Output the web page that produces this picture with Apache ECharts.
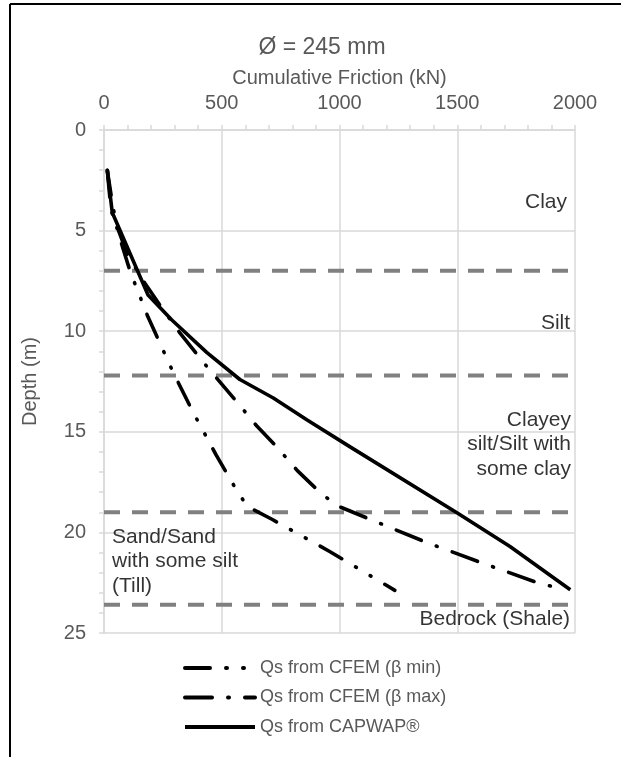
<!DOCTYPE html>
<html>
<head>
<meta charset="utf-8">
<title>Cumulative Friction</title>
<script src="https://cdn.jsdelivr.net/npm/echarts@6/dist/echarts.min.js"></script>
<style>
  html, body { margin: 0; padding: 0; background: #fff; }
  #chart { width: 621px; height: 757px; }
</style>
</head>
<body>
<div id="chart"></div>
<script>
// depth (m) / cumulative friction (kN)
var betaMinKN    = [14, 35, 57, 112, 187, 292, 377, 476, 568, 610, 715, 960, 1235];
var betaMinDepth = [2, 3.6, 5.0, 7.06, 9.3, 12.0, 14.0, 16.15, 18.0, 18.72, 19.36, 20.96, 22.88];

var betaMaxKN    = [14, 30, 100, 173, 243, 323, 440, 563, 648, 733, 821, 910, 985, 1130, 1370, 1608, 1848, 1958];
var betaMaxDepth = [2, 4, 6.2, 7.6, 8.8, 10.1, 11.8, 13.5, 14.7, 15.74, 16.93, 17.93, 18.65, 19.35, 20.5, 21.53, 22.53, 22.84];

var capwapKN    = [14, 35, 187, 287, 436, 577, 719, 861, 1045, 1502, 1724, 1980];
var capwapDepth = [2, 4.1, 8.2, 9.43, 11.05, 12.4, 13.32, 14.4, 15.75, 19.05, 20.7, 22.85];

var layerDepths = [7, 12.2, 19, 23.6];
var layerNames = ['Clay', 'Silt', 'Clayey\nsilt/Silt with\nsome clay', 'Sand/Sand\nwith some silt\n(Till)', 'Bedrock (Shale)'];

var frictionTicks = [0, 500, 1000, 1500, 2000];
var depthTicks = [0, 5, 10, 15, 20, 25];

var seriesNames = ['Qs from CFEM (\u03b2 min)', 'Qs from CFEM (\u03b2 max)', 'Qs from CAPWAP\u00ae'];

//**********************************************************************
var myChart = echarts.init(document.getElementById('chart'));
var FONT = '"Liberation Sans", Arial, sans-serif';

// where each layer name sits (kN, depth) and which side of that point
var layerLabelAt = [[1966, 3.57, 'left'], [1979, 9.58, 'left'], [1983, 15.64, 'left'], [34, 21.45, 'right'], [1979, 24.33, 'left']];

function pairs(xs, ys) {
	var out = [];
	for (var i = 0; i < xs.length; i++) {
		out.push([xs[i], ys[i]]);
	}
	return out;
}

function plainNumber(v) {
	return String(v);
}

function drawChart() {
	var xMin = frictionTicks[0];
	var xMax = frictionTicks[frictionTicks.length - 1];

	var series = [
		{
			name: seriesNames[0],
			type: 'line',
			symbol: 'none',
			data: pairs(betaMinKN, betaMinDepth),
			itemStyle: { color: '#000' },
			lineStyle: { color: '#000', width: 3.6, type: [25, 16, 1, 16, 1, 16], cap: 'round' },
			z: 5
		}, {
			name: seriesNames[1],
			type: 'line',
			symbol: 'none',
			data: pairs(betaMaxKN, betaMaxDepth),
			itemStyle: { color: '#000' },
			lineStyle: { color: '#000', width: 3.6, type: [27, 16, 1, 16], cap: 'round' },
			z: 5
		}, {
			name: seriesNames[2],
			type: 'line',
			symbol: 'none',
			data: pairs(capwapKN, capwapDepth),
			itemStyle: { color: '#000' },
			lineStyle: { color: '#000', width: 3.6 },
			z: 5
		}
	];

	// layer boundaries
	for (var i = 0; i < layerDepths.length; i++) {
		series.push({
			name: 'boundary' + i,
			type: 'line',
			symbol: 'none',
			silent: true,
			data: [[xMin, layerDepths[i]], [xMax, layerDepths[i]]],
			lineStyle: { color: '#808080', width: 4, type: [16, 12] },
			z: 3
		});
	}

	// layer names
	var labelData = [];
	for (var j = 0; j < layerNames.length; j++) {
		labelData.push({
			value: [layerLabelAt[j][0], layerLabelAt[j][1]],
			label: { position: layerLabelAt[j][2], formatter: layerNames[j] }
		});
	}
	series.push({
		name: 'layers',
		type: 'scatter',
		symbolSize: 0,
		silent: true,
		data: labelData,
		label: {
			show: true,
			distance: 0,
			color: '#000',
			fontSize: 21,
			lineHeight: 24.5,
			fontFamily: FONT
		},
		z: 6
	});

	var option = {
		animation: false,
		title: {
			text: '\u00d8 = 245 mm',
			left: 322,
			top: 36,
			textAlign: 'center',
			padding: 0,
			textStyle: { color: '#595959', fontSize: 23, fontWeight: 'normal', fontFamily: FONT }
		},
		legend: {
			data: seriesNames,
			orient: 'vertical',
			left: 183,
			top: 658,
			itemWidth: 70,
			itemHeight: 12,
			itemGap: 9.5,
			padding: 0,
			itemStyle: { opacity: 0 },
			lineStyle: { width: 4 },
			textStyle: { color: '#595959', fontSize: 18, lineHeight: 20, fontFamily: FONT }
		},
		graphic: [
			{ type: 'line', shape: { x1: 10, y1: 4, x2: 621, y2: 4 }, style: { stroke: '#000', lineWidth: 2 } },
			{ type: 'line', shape: { x1: 10, y1: 4, x2: 10, y2: 757 }, style: { stroke: '#000', lineWidth: 2 } }
		],
		grid: { left: 104, top: 130, width: 471, height: 503 },
		xAxis: {
			type: 'value',
			position: 'top',
			min: xMin,
			max: xMax,
			interval: frictionTicks[1] - frictionTicks[0],
			name: 'Cumulative Friction (kN)',
			nameLocation: 'middle',
			nameGap: 42,
			nameTextStyle: { color: '#595959', fontSize: 20, fontFamily: FONT },
			axisLine: { show: true, lineStyle: { color: '#d9d9d9', width: 1.5 } },
			axisTick: { show: true, length: 5, lineStyle: { color: '#d9d9d9', width: 1.5 } },
			minorTick: { show: true, splitNumber: 5, length: 5, lineStyle: { color: '#d9d9d9', width: 1.5 } },
			axisLabel: { color: '#595959', fontSize: 20, margin: 17, fontFamily: FONT, formatter: plainNumber },
			splitLine: { show: true, lineStyle: { color: '#d9d9d9', width: 1.5 } }
		},
		yAxis: {
			type: 'value',
			inverse: true,
			min: depthTicks[0],
			max: depthTicks[depthTicks.length - 1],
			interval: depthTicks[1] - depthTicks[0],
			name: 'Depth (m)',
			nameLocation: 'middle',
			nameGap: 64,
			nameTextStyle: { color: '#595959', fontSize: 20, fontFamily: FONT },
			axisLine: { show: true, lineStyle: { color: '#d9d9d9', width: 1.5 } },
			axisTick: { show: true, length: 5, lineStyle: { color: '#d9d9d9', width: 1.5 } },
			minorTick: { show: true, splitNumber: 5, length: 5, lineStyle: { color: '#d9d9d9', width: 1.5 } },
			axisLabel: { color: '#595959', fontSize: 20, margin: 18, fontFamily: FONT, formatter: plainNumber },
			splitLine: { show: true, lineStyle: { color: '#d9d9d9', width: 1.5 } }
		},
		series: series
	};

	myChart.setOption(option);
}

drawChart();
</script>
</body>
</html>
